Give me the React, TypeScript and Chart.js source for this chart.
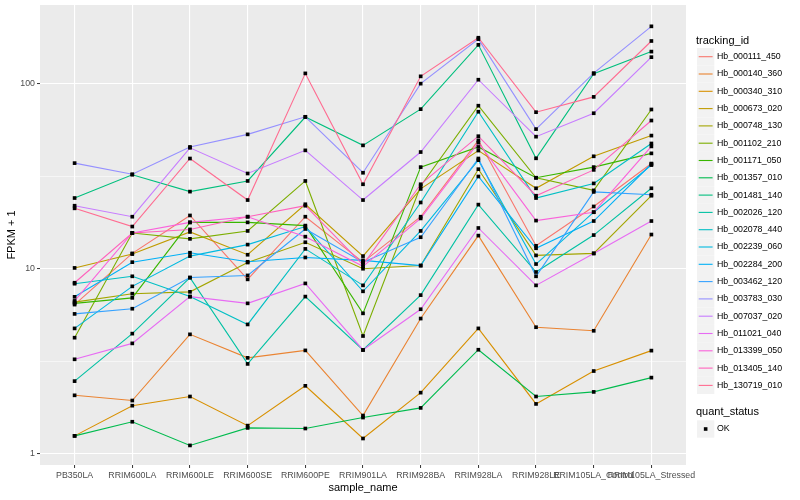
import React, { useEffect, useRef } from "react";
import Chart from "chart.js/auto";

const categories = [
  "PB350LA", "RRIM600LA", "RRIM600LE", "RRIM600SE", "RRIM600PE", "RRIM901LA",
  "RRIM928BA", "RRIM928LA", "RRIM928LE", "RRIM105LA_Control", "RRIM105LA_Stressed",
];

const hb_000111_450 = [6.4, 12.1, 19.4, 8.76, 19.1, 10.85, 19.1, 49.4, 13.3, 21.7, 37];
const hb_000140_360 = [2.07, 1.94, 4.42, 3.3, 3.62, 1.61, 5.38, 15.1, 4.83, 4.62, 15.3];
const hb_000340_310 = [1.25, 1.82, 2.04, 1.42, 2.33, 1.21, 2.14, 4.76, 1.86, 2.8, 3.61];
const hb_000673_020 = [10.1, 12.0, 15.8, 11.9, 22.3, 11.7, 27, 43.5, 27.2, 40.5, 52.4];
const hb_000748_130 = [6.6, 7.33, 7.5, 10.8, 13.9, 10.0, 10.4, 34.5, 11.8, 12.1, 24.8];
const hb_001102_210 = [4.24, 15.6, 14.5, 16.0, 29.8, 4.33, 28, 76, 31, 26.5, 72.5];
const hb_001171_050 = [6.5, 6.96, 17.8, 17.8, 17.1, 5.74, 35.4, 45.5, 31, 35.4, 42];
const hb_001357_010 = [1.25, 1.49, 1.11, 1.38, 1.37, 1.57, 1.77, 3.65, 2.04, 2.16, 2.58];
const hb_001481_140 = [24.1, 32.2, 26.1, 29.8, 66, 46.4, 72.8, 162, 39.5, 113, 149];
const hb_002026_120 = [2.47, 4.46, 8.95, 3.06, 7.07, 3.64, 7.2, 22.2, 9.6, 15.2, 27.2];
const hb_002078_440 = [8.3, 9.1, 7.07, 5.0, 12.8, 8.13, 22.8, 70.5, 24.1, 28.9, 47.5];
const hb_002239_060 = [4.76, 8.03, 11.7, 13.5, 16.9, 7.55, 16.0, 38.6, 10.6, 20.2, 36.3];
const hb_002284_200 = [7.05, 10.85, 12.2, 10.9, 11.5, 11.1, 10.4, 31.5, 12.9, 18.1, 36.8];
const hb_003462_120 = [5.7, 6.08, 8.96, 9.2, 16.4, 10.85, 14.8, 39.4, 9.1, 26.0, 25.1];
const hb_003783_030 = [37.2, 32.4, 45.5, 53.2, 66.2, 33.0, 100, 174, 56.8, 114, 204];
const hb_007037_020 = [21.9, 19.1, 45, 32.7, 43.6, 23.5, 42.7, 105, 51.7, 69.2, 139];
const hb_011021_040 = [3.24, 3.95, 7.07, 6.5, 8.33, 3.64, 6.04, 16.6, 8.13, 12.1, 18.1];
const hb_013399_050 = [6.7, 15.6, 17.8, 19.1, 14.9, 10.3, 18.7, 48, 18.2, 20.2, 45.8];
const hb_013405_140 = [8.4, 15.6, 16.3, 19.1, 21.9, 10.5, 28.6, 52, 24.8, 34.2, 63.2];
const hb_130719_010 = [21.2, 16.9, 39.4, 23.5, 113.6, 28.6, 109.5, 177, 70.1, 84.8, 170];

const seriesNames = [
  "Hb_000111_450", "Hb_000140_360", "Hb_000340_310", "Hb_000673_020", "Hb_000748_130",
  "Hb_001102_210", "Hb_001171_050", "Hb_001357_010", "Hb_001481_140", "Hb_002026_120",
  "Hb_002078_440", "Hb_002239_060", "Hb_002284_200", "Hb_003462_120", "Hb_003783_030",
  "Hb_007037_020", "Hb_011021_040", "Hb_013399_050", "Hb_013405_140", "Hb_130719_010",
];
const seriesValues = [
  hb_000111_450, hb_000140_360, hb_000340_310, hb_000673_020, hb_000748_130,
  hb_001102_210, hb_001171_050, hb_001357_010, hb_001481_140, hb_002026_120,
  hb_002078_440, hb_002239_060, hb_002284_200, hb_003462_120, hb_003783_030,
  hb_007037_020, hb_011021_040, hb_013399_050, hb_013405_140, hb_130719_010,
];
const seriesColors = [
  "#F8766D", "#EA8331", "#D89000", "#C09B00", "#A3A500", "#7CAE00", "#39B600",
  "#00BB4E", "#00BF7D", "#00C1A3", "#00BFC4", "#00BAE0", "#00B0F6", "#35A2FF",
  "#9590FF", "#C77CFF", "#E76BF3", "#FA62DB", "#FF62BC", "#FF6C91",
];

const yMajorTicks = [1, 10, 100];
const yMinorTicks = [3.1623, 31.623];
const yTicks = [1, 3.1623, 10, 31.623, 100];

const FONT = "'Liberation Sans', Arial, Helvetica, sans-serif";

const panelPlugin = {
  id: "ggpanel",
  beforeDraw(chart: any) {
    const { ctx, chartArea: a } = chart;
    ctx.save();
    ctx.fillStyle = "#FFFFFF";
    ctx.fillRect(0, 0, chart.width, chart.height);
    ctx.fillStyle = "#EBEBEB";
    ctx.fillRect(a.left, a.top, a.right - a.left, a.bottom - a.top);
    ctx.restore();
  },
  afterDraw(chart: any) {
    const { ctx, chartArea: a } = chart;
    ctx.save();
    // axis titles
    ctx.fillStyle = "#000000";
    ctx.font = `11px ${FONT}`;
    ctx.textAlign = "center";
    ctx.textBaseline = "middle";
    ctx.fillText("sample_name", (a.left + a.right) / 2, 488);
    ctx.save();
    ctx.translate(12, (a.top + a.bottom) / 2);
    ctx.rotate(-Math.PI / 2);
    ctx.fillText("FPKM + 1", 0, 0);
    ctx.restore();

    // legend
    const lx = 697;
    const keyW = 17.3;
    const keyH = 17.3;
    ctx.textAlign = "left";
    ctx.font = `11px ${FONT}`;
    ctx.fillText("tracking_id", 696, 40.5);
    ctx.font = `8.8px ${FONT}`;
    seriesNames.forEach((name, i) => {
      const cy = 56.7 + i * 17.3;
      ctx.fillStyle = "#F2F2F2";
      ctx.fillRect(lx, cy - keyH / 2, keyW, keyH);
      ctx.strokeStyle = seriesColors[i];
      ctx.lineWidth = 1.1;
      ctx.beginPath();
      ctx.moveTo(lx + 1.7, cy);
      ctx.lineTo(lx + keyW - 1.7, cy);
      ctx.stroke();
      ctx.fillStyle = "#000000";
      ctx.fillText(name, 717, cy);
    });
    ctx.font = `11px ${FONT}`;
    ctx.fillText("quant_status", 696, 412.3);
    const oy = 429;
    ctx.fillStyle = "#F2F2F2";
    ctx.fillRect(lx, oy - keyH / 2, keyW, keyH);
    ctx.fillStyle = "#000000";
    ctx.fillRect(lx + keyW / 2 - 1.8, oy - 1.8, 3.6, 3.6);
    ctx.font = `8.8px ${FONT}`;
    ctx.fillText("OK", 717, oy);
    ctx.restore();
  },
};

export default function App() {
  const canvasRef = useRef<HTMLCanvasElement | null>(null);

  useEffect(() => {
    document.body.style.margin = "0";
    const canvas = canvasRef.current;
    if (!canvas) return;

    const n = seriesValues.length;
    const lineSets = seriesValues.map((vals, i) => ({
      label: seriesNames[i],
      data: vals.map((y, x) => ({ x, y })),
      borderColor: seriesColors[i],
      backgroundColor: seriesColors[i],
      borderWidth: 1.1,
      pointRadius: 0,
      tension: 0,
      fill: false,
      order: n - i + 1,
    }));
    const pointData: { x: number; y: number }[] = [];
    seriesValues.forEach((vals) => vals.forEach((y, x) => pointData.push({ x, y })));
    const pointSet = {
      label: "OK",
      data: pointData,
      showLine: false,
      pointStyle: "rect",
      pointRadius: 2.6,
      pointBorderWidth: 0,
      pointBackgroundColor: "#000000",
      borderColor: "#000000",
      backgroundColor: "#000000",
      order: 0,
    };

    const chart = new Chart(canvas, {
      type: "line",
      data: { datasets: [pointSet as any, ...lineSets] },
      options: {
        animation: false,
        responsive: false,
        maintainAspectRatio: false,
        devicePixelRatio: 1,
        layout: { padding: { left: 0, right: 114, top: 5, bottom: 0 } },
        plugins: { legend: { display: false }, tooltip: { enabled: false } },
        scales: {
          x: {
            type: "linear",
            min: -0.6,
            max: 10.6,
            afterBuildTicks: (s: any) => {
              s.ticks = categories.map((_, i) => ({ value: i }));
            },
            afterFit: (s: any) => {
              s.height = 35;
              s.paddingLeft = 0;
              s.paddingRight = 0;
            },
            border: { display: false },
            grid: {
              color: "#FFFFFF",
              lineWidth: 1.1,
              tickColor: "#333333",
              tickLength: 3,
              tickWidth: 1,
            },
            ticks: {
              autoSkip: false,
              maxRotation: 0,
              minRotation: 0,
              padding: 2,
              color: "#4D4D4D",
              font: { family: FONT, size: 8.8 },
              callback: (v: any) => categories[Math.round(Number(v))] ?? "",
            },
          },
          y: {
            type: "logarithmic",
            min: 0.87,
            max: 266,
            afterBuildTicks: (s: any) => {
              s.ticks = yTicks.map((v) => ({ value: v }));
            },
            afterFit: (s: any) => {
              s.width = 40;
              s.paddingTop = 0;
              s.paddingBottom = 0;
            },
            border: { display: false },
            grid: {
              color: "#FFFFFF",
              lineWidth: (c: any) => (yMinorTicks.includes(c.tick?.value) ? 0.55 : 1.1),
              tickColor: (c: any) =>
                yMajorTicks.includes(c.tick?.value) ? "#333333" : "rgba(0,0,0,0)",
              tickLength: 3,
              tickWidth: 1,
            },
            ticks: {
              autoSkip: false,
              padding: 2,
              color: "#4D4D4D",
              font: { family: FONT, size: 8.8 },
              callback: (v: any) => (yMajorTicks.includes(Number(v)) ? String(v) : ""),
            },
          },
        },
      },
      plugins: [panelPlugin],
    });

    return () => chart.destroy();
  }, []);

  return (
    <div style={{ position: "absolute", left: 0, top: 0, width: 800, height: 500 }}>
      <canvas ref={canvasRef} width={800} height={500} style={{ width: 800, height: 500 }} />
    </div>
  );
}
